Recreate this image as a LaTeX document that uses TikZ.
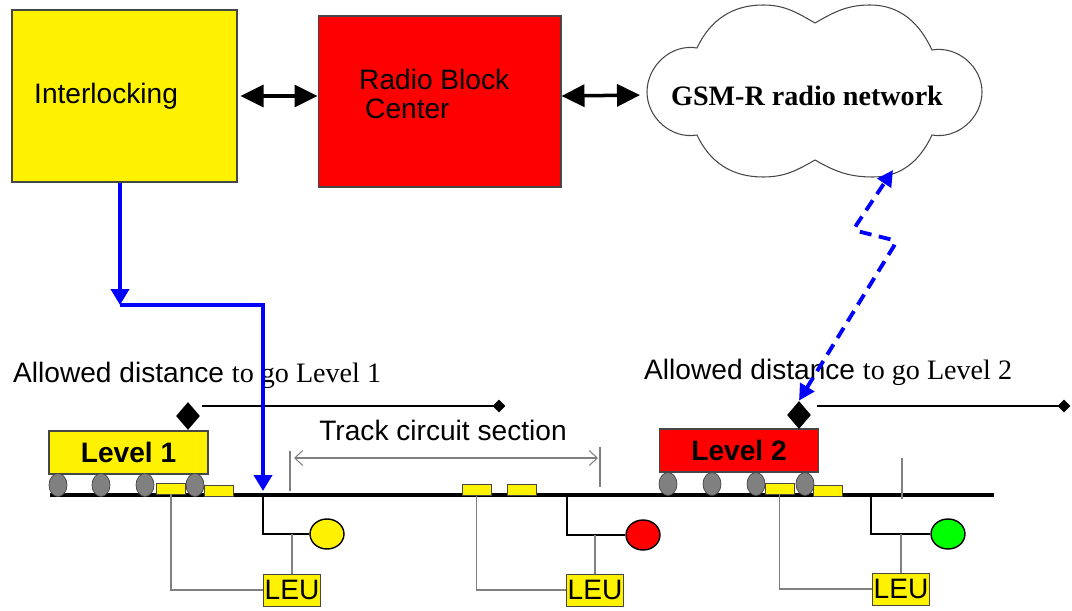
\documentclass[tikz,border=0pt]{standalone}
\usepackage{fontspec}
\setmainfont{Liberation Serif}
\setsansfont{Liberation Sans}
\usetikzlibrary{arrows.meta,shapes.geometric}

\definecolor{wheelgray}{RGB}{128,128,128}
\definecolor{edgegray}{RGB}{70,70,70}

\begin{document}
\begin{tikzpicture}[x=0.02cm, y=-0.02cm]
\tikzset{
  every node/.style={font=\fontsize{16}{17}\selectfont\sffamily},
  block/.style={draw=edgegray, line width=0.6pt, inner sep=0pt},
  bigarrow/.style={line width=2pt, {Triangle[length=0.46cm,width=0.44cm]}-{Triangle[length=0.46cm,width=0.44cm]}},
  ctrl/.style={blue, line width=2.2pt, -{Triangle[length=0.32cm,width=0.36cm]}},
  radio/.style={blue, line width=2.2pt, dash pattern=on 0.24cm off 0.15cm,
    {Triangle[length=0.32cm,width=0.32cm]}-{Triangle[length=0.32cm,width=0.32cm]}},
  track/.style={line width=2.3pt},
  train/.style={draw=edgegray, line width=0.8pt, minimum width=3.18cm, minimum height=0.86cm,
    font=\fontsize{16}{17}\selectfont\sffamily\bfseries},
  wheel/.style={ellipse, draw=edgegray, fill=wheelgray, minimum width=0.36cm, minimum height=0.46cm, inner sep=0pt},
  balise/.style={draw=edgegray, fill=yellow, minimum width=0.58cm, minimum height=0.22cm, inner sep=0pt},
  lamp/.style={ellipse, draw, line width=0.8pt, minimum width=0.68cm, minimum height=0.6cm, inner sep=0pt},
  leu/.style={draw=edgegray, fill=yellow, minimum width=1.14cm, minimum height=0.64cm, inner sep=0pt},
  stem/.style={line width=1.1pt},
  wire/.style={gray, line width=0.9pt},
  eoa/.style={diamond, fill=black, minimum width=0.48cm, minimum height=0.56cm, inner sep=0pt},
  enddot/.style={diamond, fill=black, minimum size=0.26cm, inner sep=0pt},
  distline/.style={line width=1.4pt},
  dimline/.style={gray, line width=0.6pt}
}
\useasboundingbox (0,0) rectangle (1072,611);

% control centre
\node[block, fill=yellow, minimum width=4.5cm, minimum height=3.44cm] (IL) at (124.5,96) {};
\node[anchor=west] (ILtext) at (28,96) {Interlocking};
\node[block, fill=red, minimum width=4.86cm, minimum height=3.42cm] (RBC) at (439.5,101.5) {};
\node[anchor=west, align=left] (RBCtext) at (353,94) {Radio Block\\\hspace{0.12cm}Center};

% radio network cloud, six puffs
\draw[edgegray, line width=0.6pt] (697,48) to[out=65,in=180] (763,5) to[out=0,in=150] (815,23)
  to[out=30,in=180] (870,5) to[out=0,in=115] (932,50)
  to[out=10,in=90] (982,92) to[out=-90,in=-10] (932,135)
  to[out=-115,in=0] (873,177) to[out=180,in=-30] (815,160)
  to[out=-150,in=0] (763,177) to[out=180,in=-65] (697,135)
  to[out=-170,in=-90] (647,92) to[out=90,in=170] cycle;
\node[font=\fontsize{16}{17}\selectfont\rmfamily\bfseries] (GSM) at (807,96) {GSM-R radio network};
\coordinate (GSMw) at (647,95);
\draw[bigarrow, shorten <=0.06cm] (IL.east) -- (IL.east -| RBC.west);
\draw[bigarrow, shorten >=0.14cm] (RBC.east |- IL.east) -- (GSMw);

% track
\coordinate (TL) at (50,495);
\coordinate (TR) at (994,495);
\draw[track] (TL) -- (TR);

% trains
\node[train, fill=yellow] (TR1) at (128.5,452.5) {Level 1};
\node[train, fill=red] (TR2) at (739,450.5) {Level 2};
\foreach \x [count=\i] in {58,101,145,195}
  \node[wheel] (W1\i) at (\x,485) {};
\foreach \x [count=\i] in {668,712,756,805}
  \node[wheel] (W2\i) at (\x,484) {};

% balises
\node[balise] (B1a) at (171,488.5) {};
\node[balise] (B1b) at (218.5,490.5) {};
\node[balise] (B2a) at (476.5,490) {};
\node[balise] (B2b) at (521.5,490) {};
\node[balise] (B3a) at (779.5,488.5) {};
\node[balise] (B3b) at (827.5,491) {};

% end of authority
\node[anchor=west] (AD1) at (7,375) {Allowed distance \textrm{to go Level 1}};
\node[anchor=west] (AD2) at (638,372) {Allowed distance \textrm{to go Level 2}};
\node[eoa] (D1) at (188,416) {};
\node[enddot] (E1) at (499,406) {};
\coordinate (S1) at (202,406);
\draw[distline] (S1) -- (E1.center);
\node[eoa] (D2) at (799,415) {};
\node[enddot] (E2) at (1064,406) {};
\coordinate (S2) at (817,406);
\draw[distline] (S2) -- (E2.center);

% track circuit section
\node (TC) at (443,430) {Track circuit section};
\coordinate (M1) at (290,458);
\coordinate (M2) at (600,458);
\draw[dimline] (M1) ++(0,-7) -- ++(0,40);
\draw[dimline] (M2) ++(0,-11) -- ++(0,40);
\draw[dimline, shorten <=0.08cm, shorten >=0.04cm,
  {Straight Barb[length=0.16cm,width=0.3cm]}-{Straight Barb[length=0.16cm,width=0.3cm]}] (M1) -- (M2);
\coordinate (X3) at (902,458);
\draw[dimline] (X3) -- ++(0,41);

% signals and LEUs
\node[lamp, fill=yellow] (L1) at (327,534) {};
\node[lamp, fill=red] (L2) at (643,535) {};
\node[lamp, fill=green] (L3) at (948,534) {};
\coordinate (P1) at (263,495);
\coordinate (P2) at (567,495);
\coordinate (P3) at (871,495);
\draw[stem] (P1) |- (L1.west);
\draw[stem] (P2) |- (L2.west);
\draw[stem] (P3) |- (L3.west);
\node[leu] (LEU1) at (292,590) {LEU};
\node[leu] (LEU2) at (595,590) {LEU};
\node[leu] (LEU3) at (901,589) {LEU};
\draw[wire] (LEU1.north) -- (LEU1.north |- L1);
\draw[wire] (LEU2.north) -- (LEU2.north |- L2);
\draw[wire] (LEU3.north) -- (LEU3.north |- L3);
\draw[wire] (B1a.south) |- (LEU1.west);
\draw[wire] (B2a.south) |- (LEU2.west);
\draw[wire] (B3a.south) |- (LEU3.west);

% interlocking to lineside
\coordinate (K1) at (120,305);
\coordinate (A1) at (263,491);
\draw[ctrl] (K1 |- IL.south) -- (K1);
\draw[ctrl] (K1) -| (A1);

% radio link
\coordinate (C1) at (893,170);
\coordinate (Z1) at (897,241);
\coordinate (Z2) at (853,230);
\draw[radio, rounded corners=0.12cm] (D2.north) -- (Z1) -- (Z2) -- (C1);
\end{tikzpicture}
\end{document}
